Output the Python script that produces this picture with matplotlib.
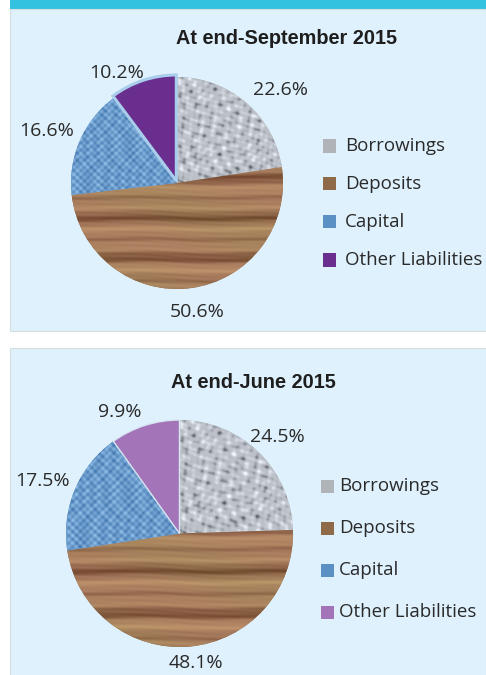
import numpy as np
import matplotlib
matplotlib.use("Agg")
import matplotlib.pyplot as plt
from matplotlib.patches import Rectangle

categories = ["Borrowings", "Deposits", "Capital", "Other Liabilities"]
sep_values = [22.6, 50.6, 16.6, 10.2]
jun_values = [24.5, 48.1, 17.5, 9.9]
titles = ["At end-September 2015", "At end-June 2015"]

W, H = 486, 675
fig = plt.figure(figsize=(W / 100, H / 100), dpi=100)
fig.patch.set_facecolor("white")

FONT = ["Open Sans", "DejaVu Sans"]
TXT = "#2a2a2a"
BG = "#dff1fc"

def px_rect(x0, y0, x1, y1, **kw):
    fig.patches.append(Rectangle((x0 / W, 1 - y1 / H), (x1 - x0) / W, (y1 - y0) / H,
                                 transform=fig.transFigure, **kw))

# panels
px_rect(10, 0, 486, 9, facecolor="#33c3e0", edgecolor="none", zorder=-2)
px_rect(10, 9, 486, 331, facecolor=BG, edgecolor="#d6dde2", lw=0.8, zorder=-2)
px_rect(10, 348, 486, 676, facecolor=BG, edgecolor="#d6dde2", lw=0.8, zorder=-2)

g = np.linspace(-1, 1, 500)
X, Y = np.meshgrid(g, g)

def tex_borrow():
    a = np.sin(43 * X + 3 * np.sin(11 * Y)) * np.sin(47 * Y + 2 * np.sin(13 * X))
    b = np.sin(79 * X + 61 * Y + 2 * np.sin(7 * X)) * np.sin(73 * Y - 37 * X)
    c = np.sin(29 * X - 17 * Y + 4 * np.sin(6 * Y)) * np.sin(31 * Y + 23 * X)
    v = 0.45 * a + 0.3 * b + 0.35 * c
    dark = np.clip(v - 0.15, 0, None) ** 1.3
    light = np.clip(-v - 0.1, 0, None)
    base = np.array([0.74, 0.76, 0.79])
    img = base[None, None, :] - 0.50 * dark[..., None] + 0.25 * light[..., None]
    return np.clip(img, 0, 1)

def tex_deposit():
    yy = Y + 0.006 * np.sin(5 * X)
    v = (0.5 * np.sin(33 * yy) + 0.35 * np.sin(17 * yy + 0.7)
         + 0.2 * np.sin(95 * yy + 2.0) + 0.1 * np.sin(9 * X + 150 * yy))
    dark = np.clip(v, 0, None)
    light = np.clip(-v, 0, None)
    tint = 0.5 + 0.5 * np.sin(7 * yy + 2.5 * X)
    base = np.array([0.63, 0.49, 0.35])
    img = (base[None, None, :]
           - 0.18 * dark[..., None] * np.array([1.0, 1.0, 0.9])
           + 0.11 * light[..., None] * np.array([1.0, 1.0, 0.6])
           + 0.04 * tint[..., None] * np.array([0.5, -0.4, 0.3]))
    return np.clip(img, 0, 1)

def tex_capital():
    v = (np.sin(95 * X) * np.sin(95 * Y) + 0.6 * np.sin(47 * X + 5 * np.sin(9 * Y))
         * np.sin(43 * Y + 3 * np.sin(7 * X)))
    v = v / 1.6
    base = np.array([0.42, 0.61, 0.80])
    img = base[None, None, :] + 0.18 * v[..., None] * np.array([1.0, 0.9, 0.7])
    return np.clip(img, 0, 1)

textures = [tex_borrow(), tex_deposit(), tex_capital(), None]
other_colors = ["#6a2f8e", "#a474b8"]
legend_colors = [["#b0b4b9", "#8e6a49", "#5b90c4", other_colors[0]],
                 ["#b0b4b9", "#8e6a49", "#5b90c4", other_colors[1]]]

pie_geo = [(177, 183, 106), (179.5, 533.5, 113.5)]
label_dist = [[1.316, 1.231, 1.321, 1.182], [1.209, 1.15, 1.288, 1.192]]
label_dang = [[-7.5, 1.2, 1.6, 10.2], [-1.2, 2.1, 1.9, 8.3]]
explode_sets = [[0, 0, 0, 0.02], [0, 0, 0, 0]]
title_pos = [(286, 39), (253, 382)]
legend_pos = [(322, 127, 38, 23), (320, 467, 42, 19)]
datasets = [sep_values, jun_values]

for i, vals in enumerate(datasets):
    cx, cy, r = pie_geo[i]
    ax = fig.add_axes([(cx - r) / W, 1 - (cy + r) / H, 2 * r / W, 2 * r / H])
    ax.set_zorder(1)
    ax.axis("off")
    cols = ["#b0b4b9", "#8e6a49", "#5b90c4", other_colors[i]]
    wedges, _ = ax.pie(vals, startangle=90, counterclock=False, radius=1,
                       colors=cols, explode=explode_sets[i],
                       wedgeprops=dict(linewidth=0))
    for k, w in enumerate(wedges):
        if textures[k] is not None:
            im = ax.imshow(textures[k], extent=(-1, 1, -1, 1), origin="lower",
                           zorder=w.get_zorder() + 0.1, interpolation="bilinear")
            im.set_clip_path(w)
    ow = wedges[3]
    ow.set_edgecolor("#a9cdea" if i == 0 else "#d8e6f2")
    ow.set_linewidth(2.2 if i == 0 else 1.0)
    ow.set_zorder(5)
    ax.set_aspect("auto")
    ax.set_xlim(-1.0, 1.0)
    ax.set_ylim(-1.0, 1.0)
    for k, w in enumerate(wedges):
        th = np.deg2rad((w.theta1 + w.theta2) / 2 + label_dang[i][k])
        d = label_dist[i][k]
        ax.text(d * np.cos(th), d * np.sin(th), f"{vals[k]:.1f}%",
                ha="center", va="center", fontsize=14, color=TXT, family=FONT,
                clip_on=False)
    tx, ty = title_pos[i]
    fig.text(tx / W, 1 - ty / H, titles[i], ha="center", va="center",
             fontsize=14.3, fontweight="bold", color="#1e1e1e",
             family=["Liberation Sans", "DejaVu Sans"])
    lx, ly, sp, tdx = legend_pos[i]
    for k, name in enumerate(categories):
        yk = ly + 19 + k * sp
        px_rect(lx + 1, yk - 6.5, lx + 14, yk + 6.5, facecolor=legend_colors[i][k],
                edgecolor="none", zorder=2)
        fig.text((lx + tdx) / W, 1 - yk / H, name, ha="left", va="center",
                 fontsize=13.5, color=TXT, family=FONT)

fig.savefig("out.png", dpi=100, facecolor=fig.get_facecolor())
